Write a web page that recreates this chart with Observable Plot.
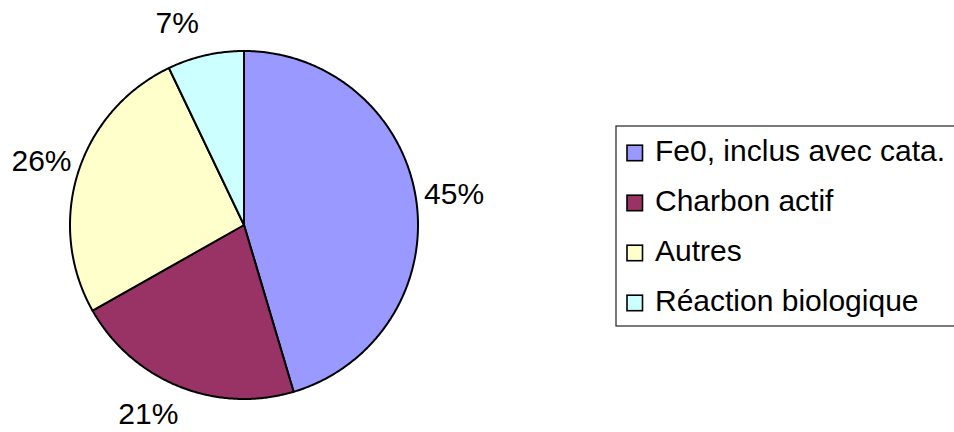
<!DOCTYPE html>
<html>
<head>
<meta charset="utf-8">
<script src="https://cdn.jsdelivr.net/npm/d3@7"></script>
<script src="https://cdn.jsdelivr.net/npm/@observablehq/plot@0.6"></script>
<style>
  html, body { margin: 0; padding: 0; background: #fff; }
  #chart { width: 954px; height: 432px; overflow: hidden; }
</style>
</head>
<body>
<div id="chart"></div>
<script>
// ---- data ----
const categories = ["Fe0, inclus avec cata.", "Charbon actif", "Autres", "Réaction biologique"];
const values = [45.4, 21.4, 26.1, 7.1];
const labels = ["45%", "21%", "26%", "7%"];
const colors = ["#9999FF", "#993366", "#FFFFCC", "#CCFFFF"];

// ---- build slice polygons (angle clockwise from 12 o'clock, unit circle) ----
const total = d3.sum(values);
const pts = [];
const lbl = [];
const labelR = 1.22, yTop = 1.158, yBottom = -1.089; // label ring and chart-area limits (data units)
let acc = 0;
values.forEach((v, i) => {
  const a0 = acc / total * 2 * Math.PI;
  acc += v;
  const a1 = acc / total * 2 * Math.PI;
  const cat = categories[i];
  pts.push({cat, x: 0, y: 0});
  const n = Math.max(2, Math.ceil((a1 - a0) / (Math.PI / 360)));
  for (let k = 0; k <= n; k++) {
    const a = a0 + (a1 - a0) * k / n;
    pts.push({cat, x: Math.sin(a), y: Math.cos(a)});
  }
  pts.push({cat, x: 0, y: 0});
  // label at mid-angle; slide along the ring if it would leave the chart area
  const am = (a0 + a1) / 2;
  let lx = labelR * Math.sin(am), ly = labelR * Math.cos(am);
  if (ly > yTop || ly < yBottom) {
    const yc = ly > yTop ? yTop : yBottom;
    ly = yc;
    lx = Math.sign(lx || 1) * Math.sqrt(labelR * labelR - yc * yc);
  }
  lbl.push({text: labels[i], x: lx, y: ly});
});

const font = "'Liberation Sans', Arial, sans-serif";

const svg = Plot.plot({
  width: 954,
  height: 432,
  marginLeft: 69.5,
  marginRight: 536.5,
  marginTop: 50.5,
  marginBottom: 33.5,
  x: {domain: [-1, 1], axis: null},
  y: {domain: [-1, 1], axis: null},
  color: {domain: categories, range: colors},
  style: {fontFamily: font, background: "#fff", overflow: "hidden"},
  marks: [
    Plot.line(pts, {x: "x", y: "y", z: "cat", fill: "cat", stroke: "#000", strokeWidth: 2, strokeLinejoin: "round", curve: "linear"}),
    Plot.text(lbl, {x: "x", y: "y", text: "text", fontSize: 30, fill: "#000", fontFamily: font})
  ]
});

// ---- legend (drawn into the same SVG, colours from the Plot colour scale) ----
const color = svg.scale("color");
const g = d3.select(svg).append("g")
  .attr("font-family", font)
  .attr("text-anchor", "start");
g.append("rect")
  .attr("x", 616).attr("y", 126).attr("width", 400).attr("height", 200)
  .attr("fill", "#fff").attr("stroke", "#222").attr("stroke-width", 1.2);
categories.forEach((c, i) => {
  const yb = 160.7 + 50 * i;
  g.append("rect")
    .attr("x", 627).attr("y", yb - 15.5).attr("width", 15.5).attr("height", 15.5)
    .attr("fill", color.apply(c)).attr("stroke", "#000").attr("stroke-width", 1.6);
  g.append("text")
    .attr("x", 655).attr("y", yb)
    .attr("font-size", 30).attr("fill", "#000")
    .attr("text-anchor", "start")
    .text(c);
});

document.getElementById("chart").appendChild(svg);
</script>
</body>
</html>
